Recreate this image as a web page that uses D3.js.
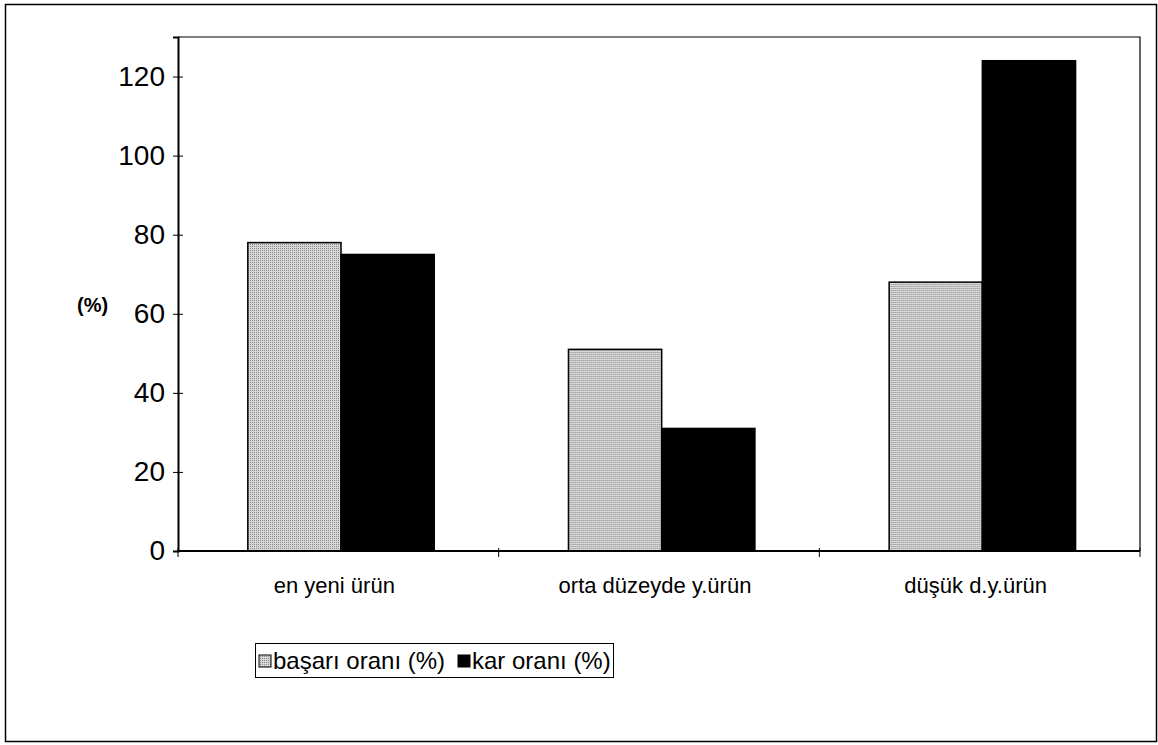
<!DOCTYPE html>
<html>
<head>
<meta charset="utf-8">
<script src="https://cdn.jsdelivr.net/npm/d3@7"></script>
<style>
  html, body { margin: 0; padding: 0; background: #fff; }
  svg { display: block; font-family: "Liberation Sans", Arial, sans-serif; }
</style>
</head>
<body>
<svg id="chart" width="1158" height="745"></svg>
<script>
// Product groups and the two measured rates
const categories = ["en yeni ürün", "orta düzeyde y.ürün", "düşük d.y.ürün"];
const seriesNames = ["başarı oranı (%)", "kar oranı (%)"];
const basariOrani = [78, 51, 68];
const karOrani = [75, 31, 124];
const yTicks = [0, 20, 40, 60, 80, 100, 120];

const svg = d3.select("#chart");
const W = 1158, H = 745;

// Dotted grey fill for the first series
const defs = svg.append("defs");
const pat = defs.append("pattern")
  .attr("id", "dots").attr("patternUnits", "userSpaceOnUse")
  .attr("width", 2).attr("height", 2);
pat.append("rect").attr("width", 2).attr("height", 2).attr("fill", "#d8d8d8");
pat.append("rect").attr("width", 1).attr("height", 1).attr("fill", "#888");

// Outer frame
svg.append("rect").attr("x", 5.5).attr("y", 4.5).attr("width", W - 7).attr("height", H - 8)
  .attr("fill", "none").attr("stroke", "#000").attr("stroke-width", 1.5);

const plot = { left: 178, right: 1140, top: 37, bottom: 551 };

const x0 = d3.scaleBand().domain(categories).range([plot.left, plot.right]).padding(0);
const x1 = d3.scaleBand().domain(seriesNames).range([0, x0.bandwidth()])
  .paddingInner(0).paddingOuter(0.72).align(0.52);
const y = d3.scaleLinear().domain([0, 130]).range([plot.bottom, plot.top]);

const rows = categories.map((c, i) => ({ cat: c, values: [basariOrani[i], karOrani[i]] }));

// Plot area frame (top and right)
svg.append("path")
  .attr("d", `M${plot.left},${plot.top}H${plot.right}V${plot.bottom}`)
  .attr("fill", "none").attr("stroke", "#000").attr("stroke-width", 1.2);

// Bars
const groups = svg.append("g").selectAll("g").data(rows).join("g")
  .attr("transform", d => `translate(${x0(d.cat)},0)`);
groups.selectAll("rect").data(d => d.values.map((v, j) => ({ name: seriesNames[j], v, j })))
  .join("rect")
  .attr("x", d => x1(d.name))
  .attr("y", d => y(d.v))
  .attr("width", x1.bandwidth())
  .attr("height", d => y(0) - y(d.v))
  .attr("fill", d => d.j === 0 ? "url(#dots)" : "#000")
  .attr("stroke", "#000").attr("stroke-width", 1.5);

// Y axis
const yAxis = svg.append("g").attr("transform", `translate(${plot.left},0)`)
  .call(d3.axisLeft(y).tickValues(yTicks).tickSize(5).tickPadding(8));
yAxis.select(".domain").attr("stroke-width", 2);
yAxis.selectAll(".tick line").attr("x2", 5).attr("x1", -5);
yAxis.selectAll("text").attr("font-size", 28).attr("fill", "#000")
  .attr("font-family", "Liberation Sans, Arial, sans-serif");

// X axis with ticks at category boundaries
const xAxisG = svg.append("g").attr("transform", `translate(0,${plot.bottom})`);
xAxisG.append("line").attr("x1", plot.left).attr("x2", plot.right)
  .attr("stroke", "#000").attr("stroke-width", 2);
const bounds = categories.map(c => x0(c)).concat([x0(categories[2]) + x0.bandwidth()]);
xAxisG.selectAll(".bt").data(bounds).join("line")
  .attr("x1", d => d).attr("x2", d => d).attr("y1", -3).attr("y2", 6)
  .attr("stroke", "#000").attr("stroke-width", 1);
xAxisG.selectAll(".cl").data(categories).join("text")
  .attr("x", d => x0(d) + x0.bandwidth() / 2 - 4)
  .attr("y", 42)
  .attr("text-anchor", "middle")
  .attr("font-size", 22)
  .text(d => d);

// Y axis title
svg.append("text").attr("x", 77).attr("y", 312)
  .attr("font-size", 20).attr("font-weight", "bold").text("(%)");

// Legend
const lg = svg.append("g");
lg.append("rect").attr("x", 255.5).attr("y", 643.5).attr("width", 358).attr("height", 34)
  .attr("fill", "#fff").attr("stroke", "#000").attr("stroke-width", 1);
const legendX = [259, 458];
seriesNames.forEach((s, j) => {
  lg.append("rect").attr("x", legendX[j]).attr("y", 655).attr("width", 12).attr("height", 12)
    .attr("fill", j === 0 ? "url(#dots)" : "#000").attr("stroke", "#000").attr("stroke-width", 1);
  lg.append("text").attr("x", legendX[j] + 14).attr("y", 669)
    .attr("font-size", 24).text(s);
});
</script>
</body>
</html>
